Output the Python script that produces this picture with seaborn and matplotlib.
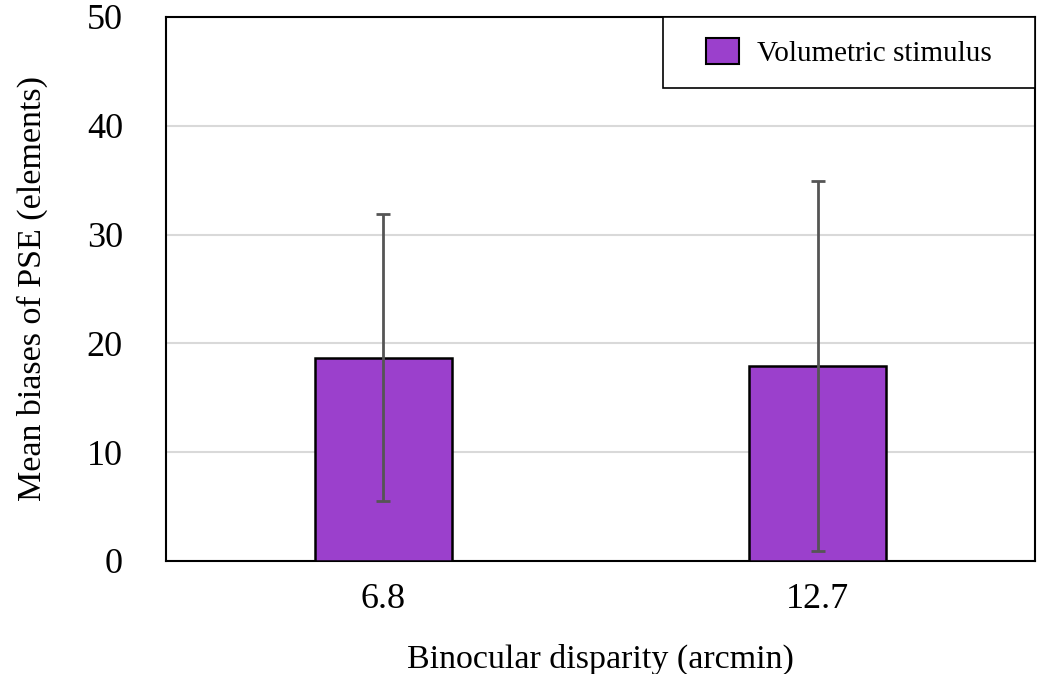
import matplotlib
matplotlib.use("Agg")
import matplotlib.pyplot as plt
import seaborn as sns
import pandas as pd
import numpy as np
from matplotlib.patches import Patch

categories = ["6.8", "12.7"]
means = [18.7, 17.95]
errors = [13.2, 17.0]
series_name = "Volumetric stimulus"

sns.set_style("white")
plt.rcParams['font.family'] = ['Liberation Serif', 'DejaVu Serif']
plt.rcParams['text.color'] = 'black'
plt.rcParams['axes.labelcolor'] = 'black'
plt.rcParams['xtick.color'] = 'black'
plt.rcParams['ytick.color'] = 'black'

df = pd.DataFrame({"disparity": categories, "bias": means})

fig = plt.figure(figsize=(10.39, 6.74), dpi=100)
ax = fig.add_axes([0.1598, 0.1677, 0.8363, 0.8071])
color = "#9B40CC"
sns.barplot(data=df, x="disparity", y="bias", color=color, width=0.315,
            edgecolor="black", linewidth=1.8, errorbar=None, ax=ax, zorder=3,
            saturation=1)
ax.errorbar(x=np.arange(len(categories)), y=means, yerr=errors, fmt="none",
            ecolor="#555555", elinewidth=2, capsize=4.7, capthick=2, zorder=4)

ax.set_ylim(0, 50)
ax.set_xlim(-0.5, 1.5)
ax.set_yticks([0, 10, 20, 30, 40, 50])
ax.yaxis.grid(True, color="#d9d9d9", linewidth=1.5, zorder=0)
ax.set_axisbelow(True)
for s in ax.spines.values():
    s.set_color("black")
    s.set_linewidth(1.5)
ax.tick_params(axis="both", length=0, labelsize=26, labelcolor="black")
ax.tick_params(axis="y", pad=31)
ax.tick_params(axis="x", pad=16)
ax.set_xlabel("Binocular disparity (arcmin)", fontsize=24.5, labelpad=20, color="black")
ax.set_ylabel("Mean biases of PSE (elements)", fontsize=24.5, labelpad=28, color="black")

handles = [Patch(facecolor=color, edgecolor="black", linewidth=1.5, label=series_name)]
leg = ax.legend(handles=handles, loc="upper right", bbox_to_anchor=(1.0, 1.0),
                fontsize=21, frameon=True, fancybox=False, borderaxespad=0,
                handlelength=1.14, handleheight=1.0, borderpad=0.72,
                handletextpad=0.62, framealpha=1, labelcolor="black")
leg.get_frame().set_edgecolor("black")
leg.get_frame().set_linewidth(1.2)
leg._legend_box.set_width(330)

fig.savefig("out.png", dpi=100)
